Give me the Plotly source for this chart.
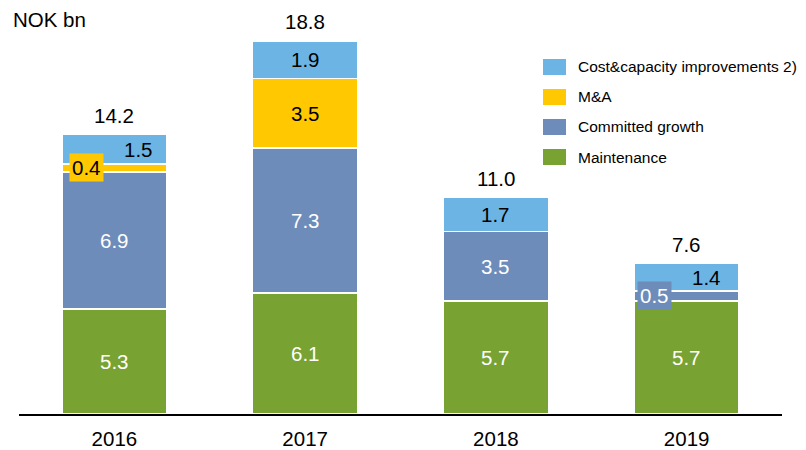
import plotly.graph_objects as go

# Capex by category, NOK bn
years = ["2016", "2017", "2018", "2019"]
maintenance = [5.3, 6.1, 5.7, 5.7]
committed_growth = [6.9, 7.3, 3.5, 0.5]
m_and_a = [0.4, 3.5, 0.0, 0.0]
cost_capacity = [1.5, 1.9, 1.7, 1.4]
totals = [14.2, 18.8, 11.0, 7.6]

series = [
    ("Maintenance", maintenance, "#78A232", "white"),
    ("Committed growth", committed_growth, "#6E8CBA", "white"),
    ("M&A", m_and_a, "#FFC800", "black"),
    ("Cost&capacity improvements 2)", cost_capacity, "#6CB4E4", "black"),
]

FONT = "Liberation Sans, Arial, sans-serif"
LABEL_SIZE = 20.5
W, H = 806, 450
ml, mr, mt, mb = 19, 24, 20, 36
pw, ph = W - ml - mr, H - mt - mb


def px_to_paper(x, y):
    return (x - ml) / pw, 1 - (y - mt) / ph


fig = go.Figure()
for name, vals, color, _ in series:
    fig.add_trace(go.Bar(
        x=years, y=vals, name=name,
        marker=dict(color=color, line=dict(color="white", width=1.5)),
        width=0.55, showlegend=False,
    ))

annotations = []
# Small segments get their label nudged sideways, some with a matching background box
label_shift = {
    ("M&A", "2016"): -28,
    ("Committed growth", "2019"): -32,
    ("Cost&capacity improvements 2)", "2016"): 24,
    ("Cost&capacity improvements 2)", "2019"): 20,
}
boxed = {("M&A", "2016"), ("Committed growth", "2019")}

# On a category axis annotations are positioned by category index
base = [0.0] * len(years)
for name, vals, color, tcolor in series:
    for i, v in enumerate(vals):
        if v > 0:
            key = (name, years[i])
            ann = dict(
                x=i, y=base[i] + v / 2, xref="x", yref="y",
                text=f"{v:.1f}", showarrow=False,
                xshift=label_shift.get(key, 0),
                font=dict(family=FONT, size=LABEL_SIZE, color=tcolor),
                borderpad=2,
            )
            if key in boxed:
                ann["bgcolor"] = color
            annotations.append(ann)
        base[i] += v

for i, t in enumerate(totals):
    annotations.append(dict(
        x=i, y=base[i], xref="x", yref="y",
        text=f"{t:.1f}", showarrow=False, yanchor="middle", yshift=19,
        font=dict(family=FONT, size=LABEL_SIZE, color="black"),
    ))

annotations.append(dict(
    x=0, y=1, xref="paper", yref="paper", text="NOK bn", showarrow=False,
    xanchor="left", yanchor="middle", xshift=-8, yshift=1,
    font=dict(family=FONT, size=LABEL_SIZE, color="black"),
))

# Legend drawn as swatches plus text, top entry first
shapes = []
for k, (name, _, color, _) in enumerate(reversed(series)):
    cy = 67 + 30 * k
    x0, y0 = px_to_paper(543, cy - 8)
    x1, y1 = px_to_paper(566, cy + 8)
    shapes.append(dict(type="rect", xref="paper", yref="paper",
                       x0=x0, x1=x1, y0=y1, y1=y0,
                       fillcolor=color, line=dict(width=0)))
    tx, ty = px_to_paper(576, cy)
    annotations.append(dict(
        x=tx, y=ty, xref="paper", yref="paper", text=name, showarrow=False,
        xanchor="left", yanchor="middle",
        font=dict(family=FONT, size=15.5, color="black"),
    ))

fig.update_layout(
    width=W, height=H,
    margin=dict(l=ml, r=mr, t=mt, b=mb, autoexpand=False),
    barmode="stack",
    plot_bgcolor="white", paper_bgcolor="white",
    annotations=annotations, shapes=shapes,
    xaxis=dict(type="category", showline=True, linecolor="black", linewidth=2,
               tickfont=dict(family=FONT, size=LABEL_SIZE, color="black"),
               ticks="", ticklabelstandoff=5, showgrid=False, automargin=False,
               range=[-0.5, len(years) - 0.5]),
    yaxis=dict(range=[0, ph / 19.85], visible=False, showgrid=False),
    showlegend=False,
)

fig.write_html("out.html")
